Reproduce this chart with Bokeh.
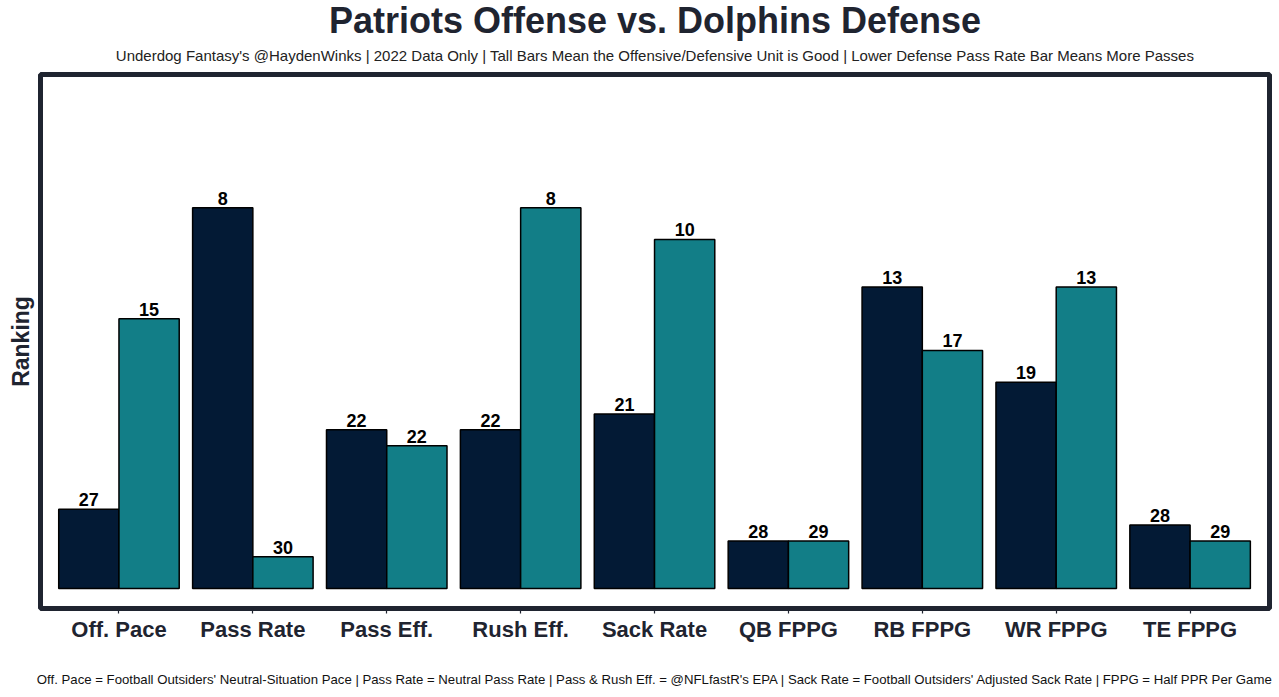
from bokeh.plotting import figure
from bokeh.models import ColumnDataSource, Range1d, FixedTicker, Title
from bokeh.transform import dodge
from bokeh.core.properties import value
from bokeh.embed import file_html
from bokeh.resources import INLINE

categories = ["Off. Pace", "Pass Rate", "Pass Eff.", "Rush Eff.", "Sack Rate",
              "QB FPPG", "RB FPPG", "WR FPPG", "TE FPPG"]
off_rank = [27, 8, 22, 22, 21, 28, 13, 19, 28]
def_rank = [15, 30, 22, 8, 10, 29, 17, 13, 29]
off_bar = [5, 24, 10, 10, 11, 3, 19, 13, 4]
def_bar = [17, 2, 9, 24, 22, 3, 15, 19, 3]

title_text = "Patriots Offense vs. Dolphins Defense"
subtitle_text = ("Underdog Fantasy's @HaydenWinks | 2022 Data Only | Tall Bars Mean the "
                 "Offensive/Defensive Unit is Good | Lower Defense Pass Rate Bar Means More Passes")
footer_text = ("Off. Pace = Football Outsiders' Neutral-Situation Pace | Pass Rate = Neutral Pass Rate | "
               "Pass & Rush Eff. = @NFLfastR's EPA | Sack Rate = Football Outsiders' Adjusted Sack Rate | "
               "FPPG = Half PPR Per Game")

OFF_COLOR = "#031a35"
DEF_COLOR = "#127e87"
DARK = "#1f2430"
FONT = "Liberation Sans"

src = ColumnDataSource(dict(
    idx=list(range(len(categories))),
    off_bar=off_bar, def_bar=def_bar,
    off_lab=[str(v) for v in off_rank],
    def_lab=[str(v) for v in def_rank],
))

p = figure(width=1272, height=689, output_backend="svg", toolbar_location=None,
           x_range=Range1d(-0.586, 8.593), y_range=Range1d(-1.258, 32.39),
           y_axis_location=None, min_border_left=40, min_border_right=3,
           min_border_top=0, min_border_bottom=0)

p.outline_line_color = DARK
p.outline_line_width = 5
p.xgrid.visible = False
p.ygrid.visible = False
p.background_fill_color = "white"

bw = 0.45
p.vbar(x=dodge("idx", -bw / 2, range=p.x_range), top="off_bar", bottom=0, width=bw,
       source=src, fill_color=OFF_COLOR, line_color="black", line_width=1.5)
p.vbar(x=dodge("idx", bw / 2, range=p.x_range), top="def_bar", bottom=0, width=bw,
       source=src, fill_color=DEF_COLOR, line_color="black", line_width=1.5)

for col, lab, off in (("off_bar", "off_lab", -bw / 2), ("def_bar", "def_lab", bw / 2)):
    p.text(x=dodge("idx", off, range=p.x_range), y=col, text=lab, source=src,
           text_align="center", text_baseline="bottom", y_offset=-3,
           text_font=value(FONT), text_font_style="bold", text_font_size="18px",
           text_color="black")

ax = p.xaxis[0]
ax.ticker = FixedTicker(ticks=list(range(len(categories))))
ax.major_label_overrides = {i: c for i, c in enumerate(categories)}
ax.major_label_text_font = FONT
ax.major_label_text_font_style = "bold"
ax.major_label_text_font_size = "22px"
ax.major_label_text_color = DARK
ax.major_label_standoff = 3
ax.axis_line_color = None
ax.major_tick_in = 0
ax.major_tick_out = 5
ax.major_tick_line_color = DARK
ax.major_tick_line_width = 1.2
ax.minor_tick_line_color = None
ax.axis_label = footer_text
ax.axis_label_text_font = FONT
ax.axis_label_text_font_style = "normal"
ax.axis_label_text_font_size = "13.2px"
ax.axis_label_text_color = "#111111"
ax.axis_label_standoff = 27

p.add_layout(Title(text="Ranking", align="center", vertical_align="top", text_font=FONT,
                   text_font_style="bold", text_font_size="23px", text_color=DARK,
                   standoff=10), "left")
p.add_layout(Title(text=subtitle_text, align="center", vertical_align="top", text_font=FONT,
                   text_font_style="normal", text_font_size="15px", text_color="#222222",
                   standoff=17), "above")
p.add_layout(Title(text=title_text, align="center", text_font=FONT, text_font_style="bold",
                   text_font_size="36px", text_color=DARK, standoff=-5), "above")

open("out.html", "w").write(file_html(p, INLINE))
